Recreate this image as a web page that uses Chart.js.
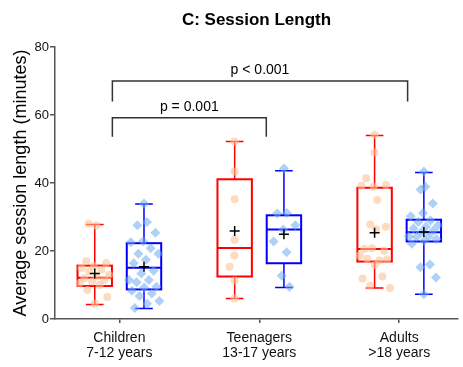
<!DOCTYPE html>
<html>
<head>
<meta charset="utf-8">
<script src="https://cdn.jsdelivr.net/npm/chart.js@4.4.1/dist/chart.umd.min.js"></script>
<style>
    html, body { margin: 0; padding: 0; background: #fff; }
    #wrap { width: 463px; height: 367px; position: relative; }
</style>
</head>
<body>
<div id="wrap"><canvas id="sessionChart"></canvas></div>
<script>
// Categories (two-line tick labels)
const categories = [['Children', '7-12 years'], ['Teenagers', '13-17 years'], ['Adults', '>18 years']];
const yTicks = [0, 20, 40, 60, 80];

// Individual values (minutes) - red series
const redChildren = [28, 27.5, 17, 16.5, 15.5, 15, 14.5, 14, 13, 12.5, 12, 11.5, 11, 10.5, 10, 8.5, 6.5, 4.5];
const redTeens = [52.2, 43.4, 35.2, 23.3, 18.7, 15.4, 11.3, 6.0];
const redAdults = [54.2, 49, 41.4, 39.4, 38.9, 39.2, 35, 27.8, 27.1, 26.4, 20.6, 20.1, 20.8, 18.7, 17.2, 17.7, 17.5, 15.9, 11.9, 12.5, 9.8, 9.1];

// Individual values (minutes) - blue series
const blueChildren = [34, 28.5, 27.6, 25.4, 22.9, 22.6, 20.8, 19.2, 19.2, 17.4, 16.4, 14.2, 13.4, 11.5, 11.5, 10.8, 9.5, 9.3, 8.3, 7.5, 6.8, 5.3, 4.5, 3.2];
const blueTeens = [44.3, 31.2, 31, 27.6, 26.3, 22.8, 19.6, 12.7, 9.5];
const blueAdults = [43.4, 38.9, 38.1, 34, 31.2, 30.2, 29, 28.5, 27.6, 27.1, 26.6, 26, 25.5, 24.3, 24.3, 24.1, 23.5, 23, 22.1, 16, 15.2, 12.2, 7.3];

// Box summaries
const redMin = [4.3, 6.0, 9.1];
const redQ1 = [9.7, 12.5, 16.9];
const redMedian = [12.1, 20.9, 20.6];
const redQ3 = [15.7, 41.1, 38.6];
const redMax = [27.8, 52.2, 54.0];
const redMean = [13.4, 25.9, 25.4];

const blueMin = [3.1, 9.3, 7.3];
const blueQ1 = [8.7, 16.4, 22.8];
const blueMedian = [15.1, 26.3, 25.5];
const blueQ3 = [22.3, 30.5, 29.2];
const blueMax = [33.8, 43.6, 43.1];
const blueMean = [15.4, 24.9, 25.6];

// Significance labels
const pLabels = ['p = 0.001', 'p < 0.001'];

const series = [
    {
        line: '#ff0000', fill: 'rgba(250, 195, 150, 0.6)', style: 'circle', radius: 4,
        offset: -0.176, points: [redChildren, redTeens, redAdults],
        min: redMin, q1: redQ1, med: redMedian, q3: redQ3, max: redMax, mean: redMean
    },
    {
        line: '#0000ff', fill: 'rgba(110, 170, 240, 0.55)', style: 'rectRot', radius: 5,
        offset: 0.176, points: [blueChildren, blueTeens, blueAdults],
        min: blueMin, q1: blueQ1, med: blueMedian, q3: blueQ3, max: blueMax, mean: blueMean
    }
];

// deterministic horizontal spread, wider where the dots crowd together
function jitter(arr, i) {
    const crowd = arr.filter((v, j) => j !== i && Math.abs(v - arr[i]) < 4).length;
    const amp = Math.min(0.115, crowd * 0.045);
    return (((i * 0.618034) % 1) - 0.5) * 2 * amp;
}

const FONT = "'Liberation Sans', Arial, sans-serif";

const boxPlugin = {
    id: 'boxes',
    beforeDatasetsDraw(chart) {
        const { ctx, scales: { x, y } } = chart;
        ctx.save();
        series.forEach(s => {
            categories.forEach((c, i) => {
                const cx = x.getPixelForValue(i + s.offset);
                const half = x.getPixelForValue(i + s.offset + 0.123) - cx;
                const cap = x.getPixelForValue(i + s.offset + 0.063) - cx;
                const yMin = y.getPixelForValue(s.min[i]);
                const yQ1 = y.getPixelForValue(s.q1[i]);
                const yMed = y.getPixelForValue(s.med[i]);
                const yQ3 = y.getPixelForValue(s.q3[i]);
                const yMax = y.getPixelForValue(s.max[i]);
                ctx.strokeStyle = s.line;
                // whiskers
                ctx.lineWidth = 1.5;
                ctx.beginPath();
                ctx.moveTo(cx, yQ1); ctx.lineTo(cx, yMin);
                ctx.moveTo(cx - cap, yMin); ctx.lineTo(cx + cap, yMin);
                ctx.moveTo(cx, yQ3); ctx.lineTo(cx, yMax);
                ctx.moveTo(cx - cap, yMax); ctx.lineTo(cx + cap, yMax);
                ctx.stroke();
                // box + median
                ctx.lineWidth = 2;
                ctx.strokeRect(cx - half, yQ3, half * 2, yQ1 - yQ3);
                ctx.beginPath();
                ctx.moveTo(cx - half, yMed); ctx.lineTo(cx + half, yMed);
                ctx.stroke();
            });
        });
        ctx.restore();
    },
    afterDatasetsDraw(chart) {
        const { ctx, scales: { x, y } } = chart;
        ctx.save();
        // means
        ctx.strokeStyle = '#000';
        ctx.lineWidth = 1.5;
        series.forEach(s => {
            categories.forEach((c, i) => {
                const cx = x.getPixelForValue(i + s.offset);
                const my = y.getPixelForValue(s.mean[i]);
                ctx.beginPath();
                ctx.moveTo(cx - 5, my); ctx.lineTo(cx + 5, my);
                ctx.moveTo(cx, my - 5); ctx.lineTo(cx, my + 5);
                ctx.stroke();
            });
        });
        // comparison brackets
        const brackets = [
            { from: -0.05, to: 1.05, top: 59.2, drop: 53.6, text: pLabels[0] },
            { from: -0.05, to: 2.06, top: 70, drop: 64, text: pLabels[1] }
        ];
        ctx.strokeStyle = '#333';
        ctx.lineWidth = 1.5;
        ctx.fillStyle = '#000';
        ctx.font = '14px ' + FONT;
        ctx.textAlign = 'center';
        ctx.textBaseline = 'bottom';
        brackets.forEach(b => {
            const x1 = x.getPixelForValue(b.from);
            const x2 = x.getPixelForValue(b.to);
            const yt = y.getPixelForValue(b.top);
            const yd = y.getPixelForValue(b.drop);
            ctx.beginPath();
            ctx.moveTo(x1, yd); ctx.lineTo(x1, yt); ctx.lineTo(x2, yt); ctx.lineTo(x2, yd);
            ctx.stroke();
            ctx.fillText(b.text, (x1 + x2) / 2, yt - 4);
        });
        ctx.restore();
    }
};

const datasets = series.map(s => ({
    data: s.points.flatMap((arr, c) => arr.map((v, i) => ({ x: c + s.offset + jitter(arr, i), y: v }))),
    pointStyle: s.style,
    pointRadius: s.radius,
    pointBackgroundColor: s.fill,
    pointBorderWidth: 0,
    showLine: false
}));

new Chart(document.getElementById('sessionChart'), {
    type: 'scatter',
    data: { datasets },
    options: {
        responsive: true,
        maintainAspectRatio: false,
        animation: false,
        layout: { padding: { left: 0, right: 2, top: 0, bottom: 0 } },
        plugins: {
            legend: { display: false },
            tooltip: { enabled: false },
            title: {
                display: true,
                text: 'C: Session Length',
                fullSize: false,
                color: '#000',
                font: { family: FONT, size: 17, weight: 'bold' },
                padding: { top: 10, bottom: 16.6 }
            }
        },
        scales: {
            x: {
                type: 'linear',
                min: -0.46,
                max: 2.42,
                afterBuildTicks: scale => { scale.ticks = categories.map((c, i) => ({ value: i })); },
                afterFit: scale => { scale.height = 48; },
                ticks: {
                    callback: v => categories[v],
                    color: '#111',
                    font: { family: FONT, size: 14, lineHeight: 1.1 },
                    padding: 7,
                    maxRotation: 0
                },
                grid: { drawOnChartArea: false, tickLength: 4, color: '#555', lineWidth: 1.5 },
                border: { color: '#555', width: 1.5 }
            },
            y: {
                min: 0,
                max: 80,
                afterBuildTicks: scale => { scale.ticks = yTicks.map(v => ({ value: v })); },
                afterFit: scale => { scale.width = 55; },
                ticks: {
                    color: '#111',
                    font: { family: FONT, size: 13 },
                    padding: 1
                },
                grid: { drawOnChartArea: false, tickLength: 5, color: '#555', lineWidth: 1.5 },
                border: { color: '#555', width: 1.5 },
                title: {
                    display: true,
                    text: 'Average session length (minutes)',
                    color: '#000',
                    font: { family: FONT, size: 18 },
                    padding: { top: 10, bottom: 0 }
                }
            }
        }
    },
    plugins: [boxPlugin]
});
</script>
</body>
</html>
